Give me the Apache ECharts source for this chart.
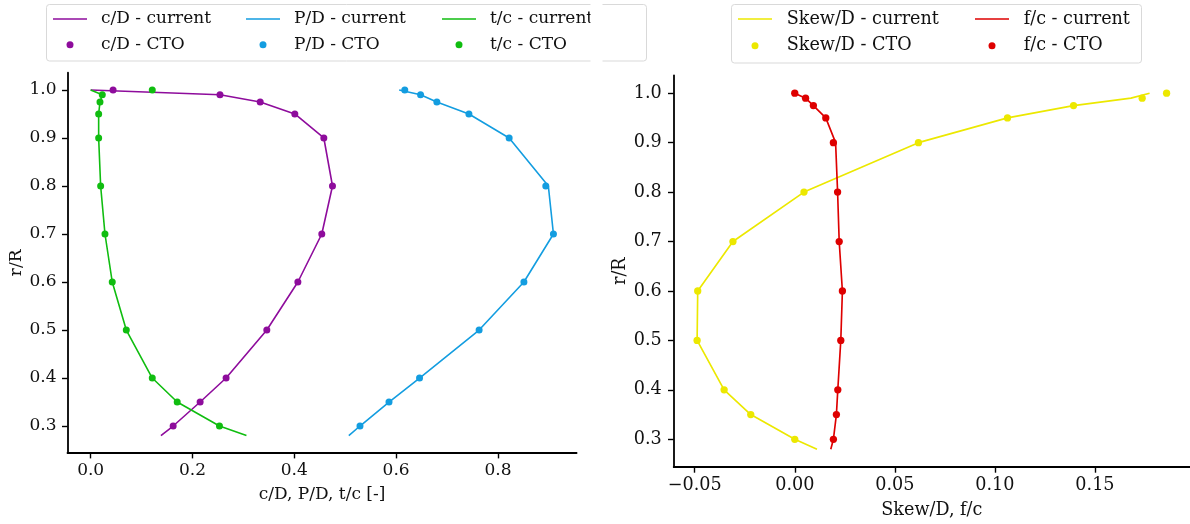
<!DOCTYPE html>
<html>
<head>
<meta charset="utf-8">
<script src="https://cdn.jsdelivr.net/npm/echarts@6/dist/echarts.min.js"></script>
<style>
html,body{margin:0;padding:0;background:#fff;}
#chart{width:1190px;height:524px;}
</style>
</head>
<body>
<div id="chart"></div>
<script>
// ---- data ----
const rCurrent = [0.28, 0.3, 0.35, 0.4, 0.5, 0.6, 0.7, 0.8, 0.9, 0.95, 0.975, 0.99, 1.0];
const rCTO     = [0.3, 0.35, 0.4, 0.5, 0.6, 0.7, 0.8, 0.9, 0.95, 0.975, 0.99, 1.0];

const cD_current = [0.138, 0.162, 0.215, 0.266, 0.346, 0.407, 0.454, 0.475, 0.458, 0.401, 0.333, 0.254, 0.0];
const cD_CTO     = [0.162, 0.215, 0.266, 0.346, 0.407, 0.454, 0.475, 0.458, 0.401, 0.333, 0.254, 0.044];
const PD_current = [0.507, 0.529, 0.586, 0.646, 0.763, 0.851, 0.909, 0.899, 0.822, 0.743, 0.680, 0.648, 0.606];
const PD_CTO     = [0.529, 0.586, 0.646, 0.763, 0.851, 0.909, 0.894, 0.822, 0.743, 0.680, 0.648, 0.617];
const tc_current = [0.306, 0.253, 0.170, 0.121, 0.070, 0.0424, 0.0281, 0.0196, 0.0157, 0.0157, 0.0183, 0.0228, 0.0];
const tc_CTO     = [0.253, 0.170, 0.121, 0.070, 0.0424, 0.0281, 0.0196, 0.0157, 0.0157, 0.0183, 0.0228, 0.121];

const skew_current = [0.0111, 0.0, -0.0220, -0.0353, -0.0488, -0.0485, -0.0309, 0.0046, 0.0618, 0.1063, 0.1393, 0.168, 0.1773];
const skew_CTO     = [0.0, -0.0220, -0.0353, -0.0488, -0.0485, -0.0309, 0.0046, 0.0618, 0.1063, 0.1393, 0.1736, 0.1858];
const fc_current   = [0.018, 0.0193, 0.0208, 0.0215, 0.0230, 0.0238, 0.0222, 0.0214, 0.0204, 0.0155, 0.0093, 0.0054, 0.0];
const fc_CTO       = [0.0193, 0.0208, 0.0215, 0.0230, 0.0238, 0.0222, 0.0214, 0.0193, 0.0155, 0.0093, 0.0054, 0.0];

const yTicks = [0.3, 0.4, 0.5, 0.6, 0.7, 0.8, 0.9, 1.0];
const xTicksLeft = [0.0, 0.2, 0.4, 0.6, 0.8];
const xTicksRight = [-0.05, 0.0, 0.05, 0.10, 0.15];

// ---- styling ----
const FONT = '"DejaVu Serif", serif';
const C = { purple:'#8e0c9c', blue:'#139de0', green:'#10bd10', yellow:'#ece800', red:'#de0000' };
const LINE_ICON = 'path://M0,0H34V1.6H0Z';
const pairs = (xs, rs) => xs.map((x, i) => [x, rs[i]]);

function lineSeries(name, xs, color, idx, w) {
  return { name, type:'line', xAxisIndex:idx, yAxisIndex:idx, data: pairs(xs, rCurrent),
    symbol:'none', lineStyle:{color, width:w}, itemStyle:{color}, z:2, silent:true };
}
function dotSeries(name, xs, color, idx, s) {
  return { name, type:'scatter', xAxisIndex:idx, yAxisIndex:idx, data: pairs(xs, rCTO),
    symbol:'circle', symbolSize:s, itemStyle:{color, opacity:1}, z:3, silent:true };
}
function yAx(idx, fs, gap, margin, tlen) {
  return { gridIndex:idx, type:'value', min:0.244, max:1.036,
    axisLine:{show:true, onZero:false, lineStyle:{color:'#000', width:1.8}},
    axisTick:{show:true, customValues:yTicks, length:tlen, lineStyle:{color:'#000', width:1.4}},
    axisLabel:{customValues:yTicks, formatter:v=>v.toFixed(1), margin, fontSize:fs, fontFamily:FONT, color:'#111'},
    splitLine:{show:false},
    name:'r/R', nameLocation:'middle', nameGap:gap, nameTextStyle:{fontSize:fs, fontFamily:FONT, color:'#111'} };
}
function xAx(idx, min, max, ticks, fmt, name, fs, gap, margin, tlen) {
  return { gridIndex:idx, type:'value', min, max,
    axisLine:{show:true, onZero:false, lineStyle:{color:'#000', width:1.8}},
    axisTick:{show:true, customValues:ticks, length:tlen, lineStyle:{color:'#000', width:1.4}},
    axisLabel:{customValues:ticks, formatter:fmt, margin, fontSize:fs, fontFamily:FONT, color:'#111'},
    splitLine:{show:false},
    name, nameLocation:'middle', nameGap:gap, nameTextStyle:{fontSize:fs, fontFamily:FONT, color:'#111'} };
}
function legendCol(left, names, fs, gap, pad) {
  return { left, top:9, orient:'vertical', padding:0, selectedMode:false, symbolKeepAspect:true,
    data:[{name:names[0], icon:LINE_ICON}, {name:names[1], icon:'circle'}],
    itemWidth:34, itemHeight:7, itemGap:gap,
    textStyle:{fontSize:fs, lineHeight:20, fontFamily:FONT, color:'#111', padding:[0,0,0,pad]} };
}

const fmtLeft = v => v.toFixed(1);
const fmtRight = v => (v < -1e-9 ? '\u2212' : '') + Math.abs(v).toFixed(2);

const option = {
  animation:false,
  backgroundColor:'#fff',
  grid:[
    {left:67.5, top:72.7, width:509.1, height:380.2},
    {left:673.7, top:75.4, width:526.8, height:394.5}
  ],
  xAxis:[
    xAx(0, -0.0455, 0.9545, xTicksLeft, fmtLeft, 'c/D, P/D, t/c [-]', 17, 33, 9, 5.5),
    xAx(1, -0.0605, 0.1975, xTicksRight, fmtRight, 'Skew/D, f/c', 17.6, 34, 9, 5.7)
  ],
  yAxis:[ yAx(0, 17, 42, 11, 5.5), yAx(1, 17.6, 44, 12, 5.7) ],
  legend:[
    legendCol(53, ['c/D - current','c/D - CTO'], 17, 5.7, 9),
    legendCol(246, ['P/D - current','P/D - CTO'], 17, 5.7, 9),
    legendCol(442, ['t/c - current','t/c - CTO'], 17, 5.7, 9),
    legendCol(738, ['Skew/D - current','Skew/D - CTO'], 17.6, 6.7, 9.7),
    legendCol(975, ['f/c - current','f/c - CTO'], 17.6, 6.7, 9.7)
  ],
  graphic:[
    {type:'rect', z:1, shape:{x:46.5, y:4.5, width:600, height:56.5, r:3}, style:{fill:'#fff', stroke:'#d9d9d9', lineWidth:1}},
    {type:'rect', z:1, shape:{x:731.5, y:4.5, width:410, height:58.5, r:3}, style:{fill:'#fff', stroke:'#d9d9d9', lineWidth:1}},
    {type:'rect', z:50, shape:{x:590.5, y:0, width:12, height:70}, style:{fill:'#fff'}}
  ],
  series:[
    lineSeries('c/D - current', cD_current, C.purple, 0, 1.6),
    lineSeries('P/D - current', PD_current, C.blue, 0, 1.6),
    lineSeries('t/c - current', tc_current, C.green, 0, 1.6),
    dotSeries('c/D - CTO', cD_CTO, C.purple, 0, 7),
    dotSeries('P/D - CTO', PD_CTO, C.blue, 0, 7),
    dotSeries('t/c - CTO', tc_CTO, C.green, 0, 7),
    lineSeries('Skew/D - current', skew_current, C.yellow, 1, 1.66),
    lineSeries('f/c - current', fc_current, C.red, 1, 1.66),
    dotSeries('Skew/D - CTO', skew_CTO, C.yellow, 1, 7.3),
    dotSeries('f/c - CTO', fc_CTO, C.red, 1, 7.3)
  ]
};
const chart = echarts.init(document.getElementById('chart'), null, {renderer:'canvas'});
chart.setOption(option);
</script>
</body>
</html>
